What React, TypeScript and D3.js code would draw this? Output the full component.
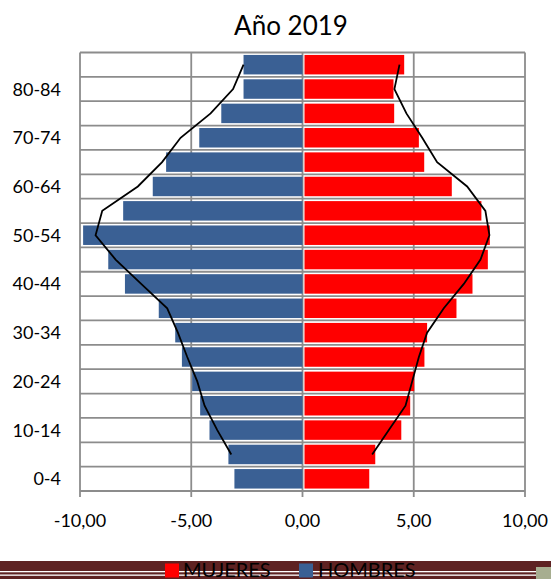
import React from "react";
import * as d3 from "d3";

const categories = ["0-4","5-9","10-14","15-19","20-24","25-29","30-34","35-39","40-44","45-49","50-54","55-59","60-64","65-69","70-74","75-79","80-84","85+"];
const hombres = [-3.06,-3.33,-4.18,-4.6,-4.96,-5.42,-5.72,-6.46,-7.98,-8.73,-9.86,-8.06,-6.73,-6.13,-4.64,-3.65,-2.65,-2.65];
const mujeres = [3.0,3.27,4.44,4.84,5.02,5.48,5.6,6.92,7.64,8.33,8.42,8.04,6.71,5.47,5.23,4.12,4.09,4.57];
const hombresLinea: (number | null)[] = [null,-3.2,-3.83,-4.4,-4.73,-5.18,-5.6,-6.08,-7.25,-8.4,-9.3,-9.0,-7.4,-6.31,-5.48,-4.13,-3.12,-2.65];
const mujeresLinea: (number | null)[] = [null,3.13,3.88,4.63,4.93,5.23,5.6,6.35,7.25,8.0,8.4,8.22,7.4,6.05,5.38,4.67,4.13,4.36];
const xTicks = [-10,-5,0,5,10];
const title = "Año 2019";
const legendItems = [{ label: "MUJERES", color: "#FF0000" }, { label: "HOMBRES", color: "#3A6094" }];

const W = 551, H = 579;
const left = 80, right = 525, top = 52.5, bottom = 491;
const FONT = "Lato, 'Open Sans', sans-serif";
const GRID = "#8c8c8c";

export default function App() {
  const x = d3.scaleLinear().domain([-10, 10]).range([left, right]);
  const order = [...categories].reverse();
  const y = d3.scaleBand<string>().domain(order).range([top, bottom]).paddingInner(0.2).paddingOuter(0.1);
  const step = (bottom - top) / categories.length;
  const boundaries = d3.range(categories.length + 1).map(i => top + i * step);
  const cy = (c: string) => (y(c) as number) + y.bandwidth() / 2;
  const fmt = (v: number) => d3.format(".2f")(v).replace(".", ",").replace("−", "-");

  const line = d3.line<number | null>()
    .defined(d => d !== null)
    .x(d => x(d as number))
    .y((_, i) => cy(categories[i]));

  return (
    <svg width={W} height={H} style={{ position: "absolute", left: 0, top: 0 }} fontFamily={FONT}>
      <rect x={0} y={0} width={W} height={H} fill="#fff" />
      <text x={291} y={35} textAnchor="middle" fontSize={26} fill="#000">{title}</text>
      {boundaries.map((b, i) => (
        <line key={"h" + i} x1={left} x2={right} y1={b} y2={b} stroke={GRID} strokeWidth={1.8} />
      ))}
      {xTicks.map(t => (
        <line key={"v" + t} x1={x(t)} x2={x(t)} y1={top} y2={bottom + 6} stroke={GRID} strokeWidth={1.8} />
      ))}
      {categories.map((c, i) => (
        <rect key={"hb" + c} x={x(hombres[i])} y={y(c)} width={x(0) - x(hombres[i])} height={y.bandwidth()} fill="#3A6094" />
      ))}
      {categories.map((c, i) => (
        <rect key={"mb" + c} x={x(0) + 2} y={y(c)} width={x(mujeres[i]) - x(0) - 2} height={y.bandwidth()} fill="#FF0000" />
      ))}
      <path d={line(hombresLinea) || ""} fill="none" stroke="#000" strokeWidth={1.8} />
      <path d={line(mujeresLinea) || ""} fill="none" stroke="#000" strokeWidth={1.8} />
      {xTicks.map(t => (
        <text key={"xl" + t} x={x(t)} y={527} textAnchor="middle" fontSize={18} fill="#000">{fmt(t)}</text>
      ))}
      {categories.map((c, i) => i % 2 === 0 ? (
        <text key={"yl" + c} x={61} y={cy(c) + 6.5} textAnchor="end" fontSize={18} fill="#000">{c}</text>
      ) : null)}
      <rect x={0} y={561} width={W} height={18} fill="#5E2222" />
      <rect x={0} y={571} width={W} height={1.3} fill="#fff" />
      <rect x={0} y={574.5} width={W} height={1.3} fill="#fff" />
      <rect x={536} y={567} width={15} height={12} fill="#a7ae90" />
      <rect x={165} y={563.5} width={14} height={14} fill={legendItems[0].color} />
      <text x={183} y={576.5} fontSize={20} fill="#000">{legendItems[0].label}</text>
      <rect x={299} y={563.5} width={14} height={14} fill={legendItems[1].color} />
      <text x={318} y={576.5} fontSize={20} fill="#000">{legendItems[1].label}</text>
    </svg>
  );
}
